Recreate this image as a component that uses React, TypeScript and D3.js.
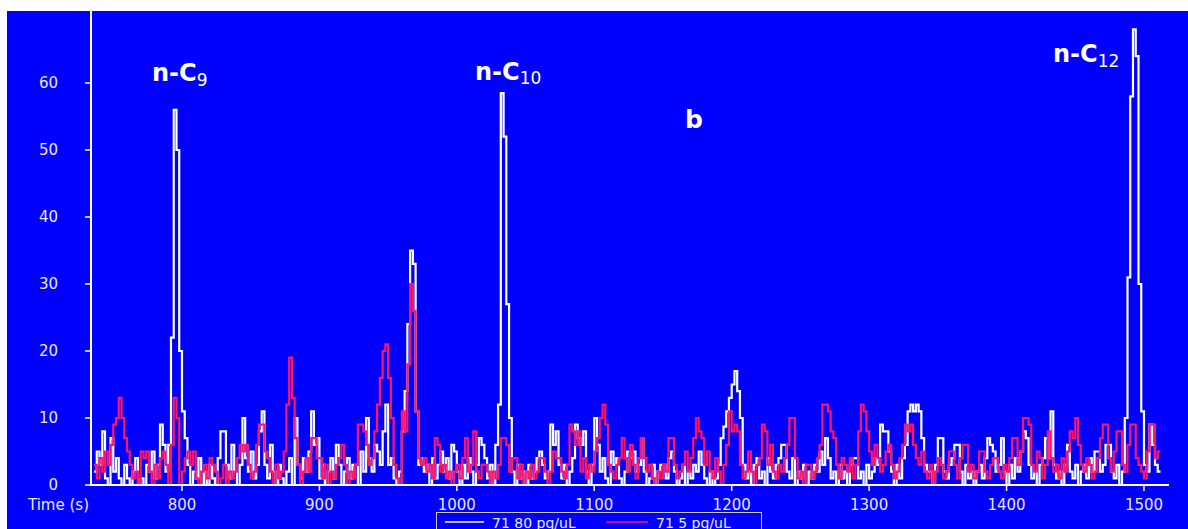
import React from "react";
import * as d3 from "d3";

// time axis start (s) and sampling step (s)
const T0 = 736;
const DT = 2;

// 71 80 pg/uL (white trace), values every 2 s from 736 s
const white80: number[] = [
  2, 5, 3, 8, 1, 0, 7, 2, 4, 1, // 736
  0, 3, 1, 0, 2, 4, 0, 1, 0, 3, // 756
  2, 5, 1, 3, 9, 6, 2, 6, 22, 56, // 776
  50, 20, 11, 7, 3, 0, 2, 1, 4, 0, // 796
  2, 0, 3, 1, 0, 4, 8, 8, 3, 1, // 816
  6, 2, 0, 3, 10, 4, 2, 5, 1, 3, // 836
  8, 11, 3, 1, 6, 2, 0, 3, 1, 0, // 856
  2, 4, 0, 10, 3, 1, 4, 2, 5, 11, // 876
  6, 7, 1, 3, 0, 2, 4, 1, 6, 3, // 896
  0, 2, 4, 1, 3, 3, 0, 5, 2, 10, // 916
  4, 2, 6, 5, 3, 8, 12, 3, 4, 1, // 936
  0, 2, 8, 14, 24, 35, 33, 11, 3, 4, // 956
  2, 3, 0, 4, 1, 3, 5, 2, 4, 1, // 976
  6, 5, 2, 0, 3, 1, 4, 2, 0, 3, // 996
  7, 6, 4, 1, 3, 0, 6, 12, 58.5, 52, // 1016
  27, 10, 2, 0, 3, 1, 2, 0, 3, 1, // 1036
  2, 4, 5, 3, 1, 2, 9, 6, 8, 3, // 1056
  1, 3, 0, 2, 4, 9, 7, 6, 8, 2, // 1076
  0, 3, 10, 6, 2, 4, 1, 0, 5, 3, // 1096
  4, 1, 0, 2, 5, 4, 5, 2, 3, 7, // 1116
  2, 0, 1, 3, 0, 2, 3, 3, 1, 4, // 1136
  5, 2, 0, 1, 3, 0, 2, 1, 3, 2, // 1156
  5, 3, 1, 0, 2, 0, 1, 3, 7, 8.7, // 1176
  11, 13, 15, 17, 14, 10, 3, 1, 2, 0, // 1196
  3, 4, 1, 2, 0, 4, 2, 1, 3, 4, // 1216
  6, 6, 2, 1, 4, 0, 2, 1, 3, 0, // 1236
  2, 1, 3, 2, 5, 3, 7, 4, 1, 2, // 1256
  0, 3, 1, 2, 0, 3, 4, 4, 1, 2, // 1276
  0, 3, 1, 2, 4, 3, 9, 8, 8, 5, // 1296
  2, 0, 3, 1, 4, 6, 11, 12, 11, 12, // 1316
  11, 7, 3, 2, 2, 0, 3, 7, 7, 2, // 1336
  1, 3, 4, 6, 6, 2, 0, 3, 1, 2, // 1356
  0, 2, 3, 1, 4, 7, 6, 5, 2, 3, // 1376
  7, 2, 0, 3, 1, 4, 2, 5, 8, 7, // 1396
  3, 1, 2, 0, 3, 4, 7, 4, 11, 3, // 1416
  1, 2, 0, 3, 6, 2, 1, 3, 0, 2, // 1436
  3, 1, 4, 2, 5, 5, 2, 3, 6, 6, // 1456
  2, 1, 3, 0, 2, 10, 31, 58, 68, 64, // 1476
  30, 11, 3, 2, 9, 6, 3, 2, // 1496
];

// 71 5 pg/uL (pink trace), values every 2 s from 736 s
const pink5: number[] = [
  3, 1, 4, 2, 5, 3, 6, 9, 10, 13, // 736
  10, 7, 5, 3, 1, 2, 0, 5, 4, 5, // 756
  2, 0, 3, 1, 4, 5, 3, 0, 6, 13, // 776
  10, 0, 2, 4, 5, 3, 5, 1, 0, 2, // 796
  3, 1, 4, 3, 2, 0, 1, 3, 0, 2, // 816
  1, 2, 4, 6, 5, 6, 3, 1, 2, 6, // 836
  9, 9, 5, 4, 2, 0, 3, 1, 2, 5, // 856
  12, 19, 13, 7, 3, 0, 2, 4, 2, 7, // 876
  7, 4, 4, 1, 3, 0, 2, 1, 3, 4, // 896
  6, 3, 0, 2, 1, 3, 9, 9, 8, 6, // 916
  3, 4, 8, 12, 16, 20, 21, 16, 10, 3, // 936
  1, 0, 11, 8, 18, 30, 26, 11, 4, 3, // 956
  4, 2, 3, 1, 7, 6, 2, 3, 1, 2, // 976
  0, 2, 3, 1, 4, 7, 2, 3, 8, 2, // 996
  1, 3, 3, 2, 0, 2, 1, 3, 7, 7, // 1016
  6, 2, 4, 4, 1, 3, 0, 2, 1, 3, // 1036
  1, 2, 4, 4, 2, 0, 2, 5, 4, 4, // 1056
  2, 1, 3, 9, 8, 6, 8, 2, 4, 1, // 1076
  3, 2, 5, 7, 10, 12, 9, 3, 2, 1, // 1096
  3, 4, 7, 4, 2, 6, 3, 1, 4, 7, // 1116
  4, 2, 3, 1, 0, 2, 1, 3, 2, 7, // 1136
  7, 3, 1, 2, 3, 5, 2, 4, 7, 10, // 1156
  8, 7, 3, 5, 2, 1, 4, 2, 0, 3, // 1176
  6, 11, 8, 9, 8, 3, 1, 2, 5, 2, // 1196
  0, 3, 4, 9, 8, 3, 6, 2, 1, 3, // 1216
  2, 4, 6, 10, 10, 4, 1, 2, 0, 3, // 1236
  3, 1, 2, 4, 6, 12, 12, 11, 8, 7, // 1256
  3, 1, 4, 3, 2, 4, 1, 3, 8, 12, // 1276
  11, 8, 5, 3, 6, 4, 2, 3, 5, 6, // 1296
  3, 1, 2, 4, 6, 9, 8, 9, 6, 4, // 1316
  3, 5, 2, 1, 3, 0, 2, 4, 3, 1, // 1336
  2, 5, 5, 3, 1, 4, 6, 6, 2, 3, // 1356
  1, 2, 5, 5, 2, 1, 3, 4, 4, 2, // 1376
  1, 3, 2, 4, 7, 7, 3, 5, 10, 10, // 1396
  9, 3, 2, 5, 4, 1, 3, 8, 4, 2, // 1416
  3, 1, 4, 2, 5, 8, 7, 10, 6, 3, // 1436
  2, 4, 3, 1, 2, 4, 7, 9, 9, 4, // 1456
  2, 5, 8, 8, 3, 2, 6, 9, 9, 4, // 1476
  3, 2, 1, 5, 9, 9, 4, 5, // 1496
];

const xTicks = [800, 900, 1000, 1100, 1200, 1300, 1400, 1500];
const yTicks = [0, 10, 20, 30, 40, 50, 60];
const seriesNames = ["71 80 pg/uL", "71 5 pg/uL"];
const seriesColors = ["#ffffff", "#ff1466"];

const W = 1188;
const H = 529;
const BG = "#0000ff";
const TXT = "#e8e8ff";
const FONT = "'DejaVu Sans', Verdana, sans-serif";
const BOLD = "'DejaVu Sans', sans-serif";

export default function App() {
  const x = d3.scaleLinear().domain([733.8, 1518.2]).range([91, 1169]);
  const y = d3.scaleLinear().domain([0, 70.75]).range([485, 11]);

  const toPts = (arr: number[]) => {
    const pts: [number, number][] = arr.map((v, i) => [T0 + i * DT, v]);
    pts.push([T0 + arr.length * DT, arr[arr.length - 1]]);
    return pts;
  };
  const line = d3
    .line<[number, number]>()
    .x((d) => x(d[0]))
    .y((d) => y(d[1]))
    .curve(d3.curveStepAfter);

  const series = [white80, pink5];

  return (
    <svg
      width={W}
      height={H}
      style={{ position: "absolute", left: 0, top: 0, display: "block" }}
    >
      <rect x={0} y={0} width={W} height={H} fill="#ffffff" />
      <rect x={7} y={11} width={W - 7} height={H - 11} fill={BG} />

      {series.map((s, i) => (
        <path
          key={i}
          d={line(toPts(s)) || ""}
          fill="none"
          stroke={seriesColors[i]}
          strokeWidth={2.2}
          strokeLinejoin="miter"
        />
      ))}

      {/* y axis */}
      <line x1={91} x2={91} y1={11} y2={485} stroke="#ffffff" strokeWidth={2} />
      {yTicks.map((t) => (
        <g key={t}>
          <line x1={85} x2={91} y1={y(t)} y2={y(t)} stroke="#ffffff" strokeWidth={1.5} />
          <text
            x={58}
            y={y(t)}
            dy="0.36em"
            textAnchor="end"
            fill={TXT}
            fontFamily={FONT}
            fontSize={15}
          >
            {t}
          </text>
        </g>
      ))}

      {/* x axis */}
      <line x1={90} x2={1169} y1={485} y2={485} stroke="#ffffff" strokeWidth={2} />
      {xTicks.map((t) => (
        <g key={t}>
          <line x1={x(t)} x2={x(t)} y1={485} y2={491} stroke="#ffffff" strokeWidth={1.5} />
          <text
            x={x(t)}
            y={510}
            textAnchor="middle"
            fill={TXT}
            fontFamily={FONT}
            fontSize={15}
          >
            {t}
          </text>
        </g>
      ))}
      <text x={28} y={510} fill={TXT} fontFamily={FONT} fontSize={15}>
        Time (s)
      </text>

      {/* annotations */}
      <g fill="#ffffff" fontFamily={BOLD}>
        <text x={152} y={81} fontSize={24} fontWeight={700}>
          n-C<tspan fontSize={17} fontWeight={400} dy={5}>9</tspan>
        </text>
        <text x={475} y={80} fontSize={24} fontWeight={700}>
          n-C<tspan fontSize={17} fontWeight={400} dy={4}>10</tspan>
        </text>
        <text x={685} y={128} fontSize={25} fontWeight={700}>
          b
        </text>
        <text x={1053} y={62} fontSize={24} fontWeight={700}>
          n-C<tspan fontSize={17} fontWeight={400} dy={5}>12</tspan>
        </text>
      </g>

      {/* legend */}
      <rect x={436.5} y={512.5} width={325} height={30} fill={BG} stroke="#c8c8c8" strokeWidth={1} />
      <line x1={445} x2={484} y1={522} y2={522} stroke={seriesColors[0]} strokeWidth={1.5} />
      <text x={492} y={528} fill={TXT} fontFamily={FONT} fontSize={14}>
        {seriesNames[0]}
      </text>
      <line x1={606} x2={648} y1={522} y2={522} stroke={seriesColors[1]} strokeWidth={1.5} />
      <text x={656} y={528} fill={TXT} fontFamily={FONT} fontSize={14}>
        {seriesNames[1]}
      </text>
    </svg>
  );
}
